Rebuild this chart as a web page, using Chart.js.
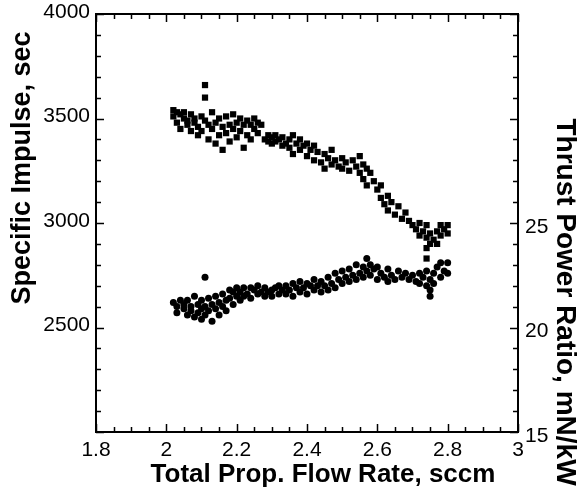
<!DOCTYPE html>
<html lang="en">
	<head>
		<meta charset="UTF-8" />
		<title>Specific Impulse and Thrust Power Ratio</title>
		<script src="https://cdn.jsdelivr.net/npm/chart.js"></script>
		<style>
			body {
				margin: 0;
				background: #fff;
			}
			canvas {
				display: block;
			}
		</style>
	</head>
	<body>
		<canvas id="chart" width="578" height="495"></canvas>

		<script>
			// specific impulse (squares, left axis)
			const ispFlow = [
				2.02, 2.02, 2.03, 2.03, 2.04, 2.04, 2.05, 2.05, 2.06, 2.06,
				2.07, 2.07, 2.08, 2.08, 2.09, 2.09, 2.10, 2.10, 2.11, 2.11,
				2.11, 2.12, 2.12, 2.13, 2.13, 2.14, 2.14, 2.15, 2.15, 2.16,
				2.16, 2.17, 2.17, 2.18, 2.18, 2.19, 2.19, 2.20, 2.20, 2.21,
				2.21, 2.22, 2.22, 2.23, 2.23, 2.24, 2.24, 2.25, 2.25, 2.26,
				2.26, 2.27, 2.28, 2.29, 2.29, 2.30, 2.30, 2.31, 2.31, 2.32,
				2.33, 2.33, 2.34, 2.35, 2.35, 2.36, 2.36, 2.37, 2.38, 2.38,
				2.39, 2.40, 2.40, 2.41, 2.42, 2.42, 2.43, 2.44, 2.45, 2.45,
				2.46, 2.47, 2.47, 2.48, 2.49, 2.50, 2.50, 2.51, 2.52, 2.53,
				2.54, 2.55, 2.55, 2.56, 2.56, 2.57, 2.57, 2.58, 2.59, 2.60,
				2.61, 2.61, 2.62, 2.63, 2.63, 2.64, 2.65, 2.66, 2.67, 2.68,
				2.69, 2.70, 2.71, 2.72, 2.72, 2.73, 2.74, 2.74, 2.74, 2.74,
				2.75, 2.75, 2.76, 2.77, 2.77, 2.78, 2.78, 2.79, 2.80, 2.80,
			];
			const ispValues = [
				3540, 3510, 3530, 3480, 3520, 3450, 3530, 3500, 3490, 3470,
				3520, 3440, 3500, 3480, 3460, 3420, 3510, 3440, 3660, 3600,
				3490, 3470, 3400, 3530, 3450, 3380, 3480, 3500, 3420, 3460,
				3350, 3510, 3430, 3470, 3390, 3520, 3450, 3480, 3410, 3500,
				3440, 3470, 3360, 3490, 3420, 3470, 3400, 3500, 3450, 3480,
				3430, 3470, 3400, 3390, 3420, 3410, 3380, 3420, 3390, 3400,
				3370, 3410, 3380, 3360, 3400, 3420, 3330, 3380, 3350, 3400,
				3370, 3380, 3320, 3350, 3300, 3370, 3340, 3290, 3330, 3260,
				3310, 3280, 3350, 3300, 3270, 3310, 3260, 3290, 3250, 3300,
				3270, 3320, 3240, 3280, 3210, 3260, 3180, 3240, 3200, 3160,
				3120, 3180, 3090, 3130, 3060, 3100, 3040, 3080, 3020, 3050,
				3010, 2990, 2970, 3000, 2940, 2960, 2930, 2990, 2880, 2830,
				2950, 2900, 2920, 2960, 2900, 2940, 2990, 2970, 2990, 2950,
			];

			// thrust power ratio (circles, right axis)
			const tprFlow = [
				2.02, 2.03, 2.03, 2.04, 2.05, 2.05, 2.06, 2.06, 2.07, 2.07,
				2.08, 2.08, 2.09, 2.09, 2.10, 2.10, 2.10, 2.11, 2.11, 2.11,
				2.12, 2.12, 2.13, 2.13, 2.14, 2.14, 2.15, 2.15, 2.16, 2.16,
				2.17, 2.17, 2.18, 2.18, 2.19, 2.19, 2.20, 2.20, 2.21, 2.21,
				2.22, 2.22, 2.23, 2.24, 2.24, 2.25, 2.26, 2.26, 2.27, 2.28,
				2.28, 2.29, 2.30, 2.30, 2.31, 2.32, 2.32, 2.33, 2.34, 2.34,
				2.35, 2.36, 2.36, 2.37, 2.38, 2.38, 2.39, 2.40, 2.40, 2.41,
				2.42, 2.42, 2.43, 2.44, 2.44, 2.45, 2.46, 2.46, 2.47, 2.48,
				2.48, 2.49, 2.50, 2.50, 2.51, 2.52, 2.52, 2.53, 2.54, 2.54,
				2.55, 2.56, 2.56, 2.57, 2.57, 2.58, 2.58, 2.59, 2.60, 2.60,
				2.61, 2.62, 2.63, 2.63, 2.64, 2.65, 2.66, 2.67, 2.68, 2.69,
				2.70, 2.71, 2.72, 2.72, 2.73, 2.74, 2.74, 2.75, 2.75, 2.75,
				2.76, 2.76, 2.77, 2.78, 2.78, 2.79, 2.80, 2.80,
			];
			const tprValues = [
				21.2, 21.0, 20.7, 21.3, 20.9, 21.1, 20.6, 21.3, 21.0, 20.8,
				21.5, 20.5, 21.1, 20.7, 21.3, 20.4, 20.9, 22.4, 21.0, 20.6,
				21.4, 20.8, 21.1, 20.3, 21.5, 20.9, 21.2, 20.6, 21.6, 21.0,
				21.3, 20.8, 21.8, 21.4, 21.1, 21.7, 21.5, 21.9, 21.3, 21.7,
				21.9, 21.5, 21.6, 21.9, 21.4, 21.8, 21.6, 22.0, 21.7, 21.5,
				21.9, 21.7, 21.8, 21.5, 21.9, 21.6, 22.0, 21.8, 21.6, 22.0,
				21.8, 21.5, 22.1, 21.9, 21.7, 22.2, 21.9, 22.1, 21.6, 22.0,
				21.8, 22.3, 22.0, 21.7, 22.2, 22.0, 22.4, 21.8, 22.1, 22.6,
				21.9, 22.3, 22.1, 22.7, 22.4, 22.2, 22.8, 22.5, 22.3, 23.0,
				22.6, 22.9, 22.4, 23.3, 22.7, 23.0, 22.5, 22.8, 22.3, 22.9,
				22.6, 22.4, 22.2, 22.8, 22.5, 22.3, 22.7, 22.4, 22.6, 22.3,
				22.5, 22.2, 22.6, 22.1, 22.4, 22.0, 22.7, 21.8, 21.5, 22.3,
				22.6, 22.1, 22.9, 22.4, 23.1, 22.7, 23.1, 22.6,
			];

			// tick labels
			const flowTicks = [1.8, 2, 2.2, 2.4, 2.6, 2.8, 3];
			const ispTicks = [2500, 3000, 3500, 4000];
			const tprTicks = [15, 20, 25];

			const FONT = "'Liberation Sans', Arial, sans-serif";
			const tickFont = { family: FONT, size: 21 };

			// frame, inward ticks and axis titles
			const framePlugin = {
				id: "framePlugin",
				afterDraw(chart) {
					const { ctx, chartArea: a, scales } = chart;
					ctx.save();
					ctx.strokeStyle = "#000";
					ctx.lineWidth = 1.5;
					ctx.beginPath();

					const isMajor = (v, step) =>
						Math.abs(v / step - Math.round(v / step)) < 1e-6;

					for (let v = 1.8; v <= 3.0001; v += 0.05) {
						const px = Math.round(scales.x.getPixelForValue(v)) + 0.5;
						const len = isMajor(v, 0.2) ? 8 : 5;
						ctx.moveTo(px, a.bottom);
						ctx.lineTo(px, a.bottom - len);
						ctx.moveTo(px, a.top);
						ctx.lineTo(px, a.top + len);
					}
					for (let v = 2000; v <= 4000; v += 100) {
						const py = Math.round(scales.y.getPixelForValue(v)) + 0.5;
						const len = isMajor(v, 500) ? 8 : 5;
						ctx.moveTo(a.left, py);
						ctx.lineTo(a.left + len, py);
					}
					for (let v = 15; v <= 35; v += 1) {
						const py = Math.round(scales.y2.getPixelForValue(v)) + 0.5;
						const len = isMajor(v, 5) ? 8 : 5;
						ctx.moveTo(a.right, py);
						ctx.lineTo(a.right - len, py);
					}
					ctx.stroke();

					ctx.lineWidth = 2;
					ctx.strokeRect(a.left, a.top, a.right - a.left, a.bottom - a.top);

					ctx.fillStyle = "#000";
					ctx.textAlign = "center";
					ctx.textBaseline = "middle";

					ctx.font = "bold 26px " + FONT;
					ctx.fillText("Total Prop. Flow Rate, sccm", 323, 475);

					ctx.save();
					ctx.translate(23, 168);
					ctx.rotate(-Math.PI / 2);
					ctx.font = "bold 27px " + FONT;
					ctx.fillText("Specific Impulse, sec", 0, 0);
					ctx.restore();

					ctx.save();
					ctx.translate(565, 302);
					ctx.rotate(Math.PI / 2);
					ctx.font = "bold 28px " + FONT;
					ctx.fillText("Thrust Power Ratio, mN/kW", 0, 0);
					ctx.restore();

					ctx.restore();
				},
			};

			new Chart(document.getElementById("chart"), {
				type: "scatter",
				data: {
					datasets: [
						{
							label: "Specific Impulse",
							data: ispFlow.map((x, i) => ({ x, y: ispValues[i] })),
							yAxisID: "y",
							pointStyle: "rect",
							pointRadius: 4.4,
							backgroundColor: "#000",
							borderWidth: 0,
						},
						{
							label: "Thrust Power Ratio",
							data: tprFlow.map((x, i) => ({ x, y: tprValues[i] })),
							yAxisID: "y2",
							pointStyle: "circle",
							pointRadius: 3.5,
							backgroundColor: "#000",
							borderWidth: 0,
						},
					],
				},
				options: {
					responsive: false,
					animation: false,
					layout: { padding: { top: 14 } },
					plugins: {
						legend: { display: false },
						tooltip: { enabled: false },
					},
					scales: {
						x: {
							type: "linear",
							min: 1.8,
							max: 3,
							grid: { display: false },
							border: { display: false },
							afterBuildTicks: (s) => {
								s.ticks = flowTicks.map((v) => ({ value: v }));
							},
							afterFit: (s) => {
								s.height = 63;
							},
							ticks: {
								font: tickFont,
								color: "#000",
								padding: -2,
								maxRotation: 0,
								autoSkip: false,
								callback: (v) => String(Math.round(v * 10) / 10),
							},
						},
						y: {
							type: "linear",
							position: "left",
							min: 2000,
							max: 4000,
							grid: { display: false },
							border: { display: false },
							afterBuildTicks: (s) => {
								s.ticks = ispTicks.map((v) => ({ value: v }));
							},
							afterFit: (s) => {
								s.width = 96;
							},
							ticks: {
								font: tickFont,
								color: "#000",
								padding: -2,
								labelOffset: -2,
								callback: (v) => String(v),
							},
						},
						y2: {
							type: "linear",
							position: "right",
							min: 15,
							max: 35,
							grid: { display: false },
							border: { display: false },
							afterBuildTicks: (s) => {
								s.ticks = tprTicks.map((v) => ({ value: v }));
							},
							afterFit: (s) => {
								s.width = 60;
							},
							ticks: {
								font: tickFont,
								color: "#000",
								padding: -1,
								labelOffset: 4,
								callback: (v) => String(v),
							},
						},
					},
				},
				plugins: [framePlugin],
			});
		</script>
	</body>
</html>
